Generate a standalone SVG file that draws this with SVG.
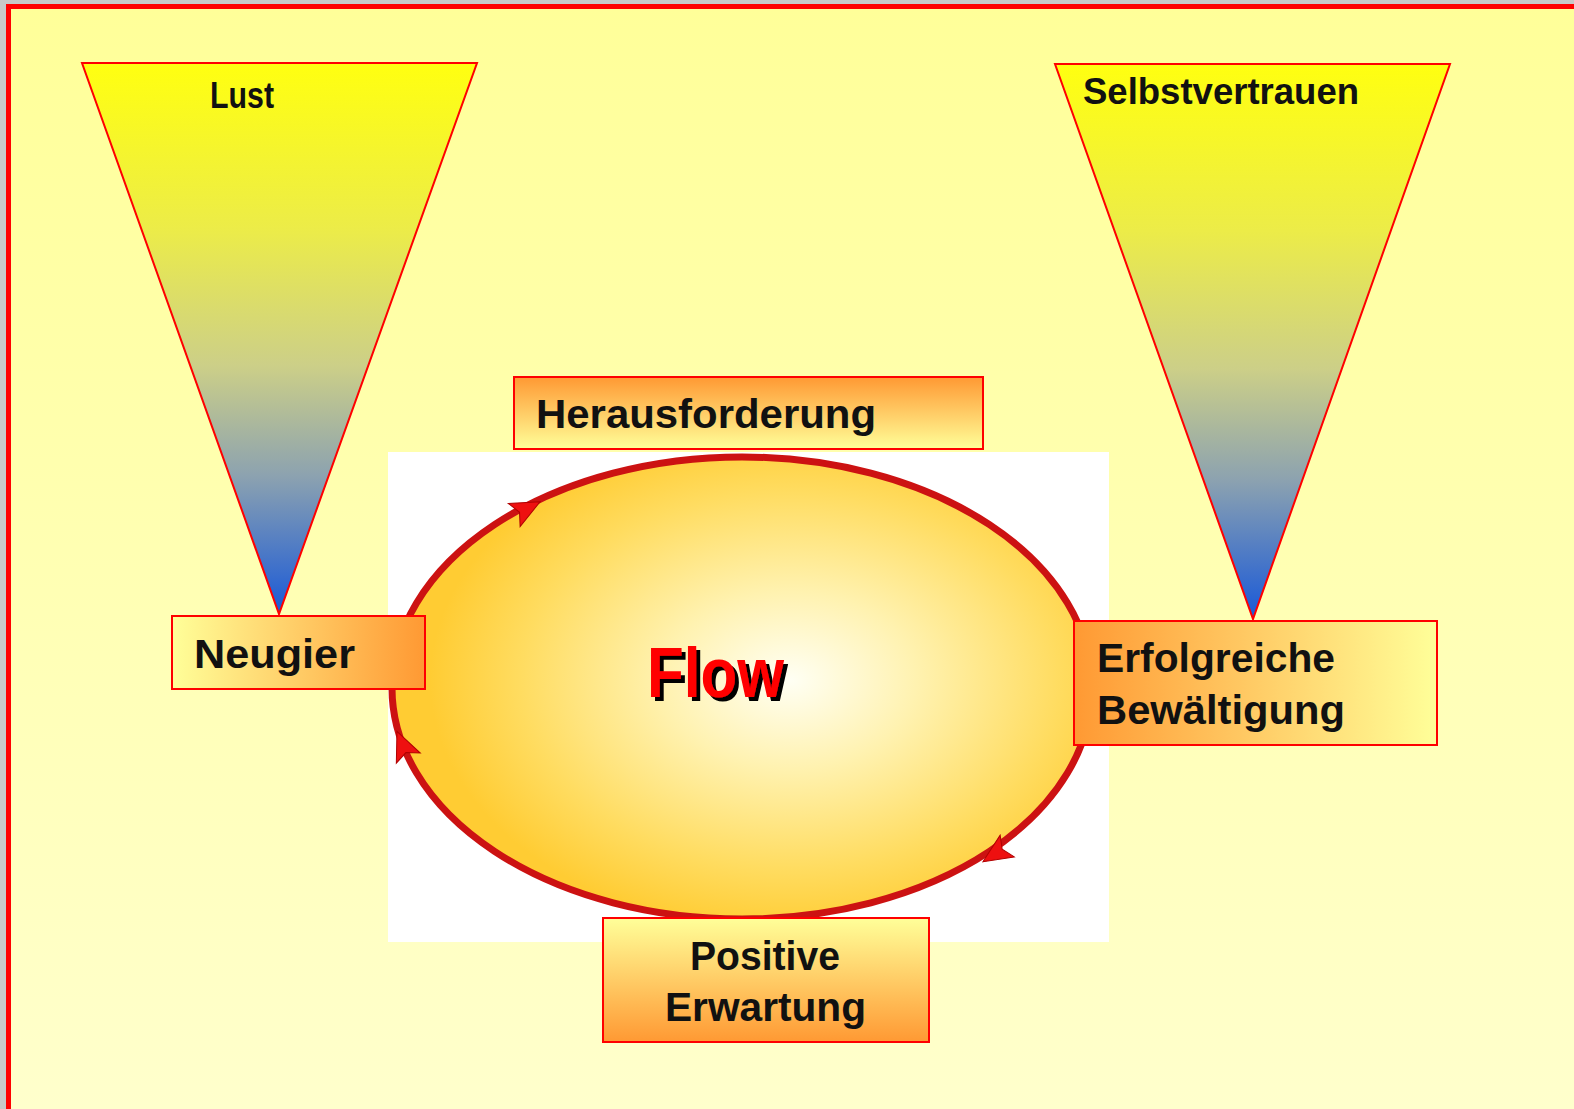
<svg xmlns="http://www.w3.org/2000/svg" width="1574" height="1109" viewBox="0 0 1574 1109">
<defs>
<style>
.lbl{font-family:"Liberation Sans",Arial,sans-serif;font-weight:bold;fill:#111;}
.box{stroke:#ff0000;stroke-width:2;}
.tri{stroke:#ff0000;stroke-width:2;fill:url(#triG);}
.ring{fill:none;stroke:#cc1212;stroke-width:7;}
.ah{fill:#ee1010;stroke:#b00000;stroke-width:1;}
</style>
<filter id="shadow" x="-10%" y="-10%" width="130%" height="130%">
<feDropShadow dx="4" dy="4" stdDeviation="0.4" flood-color="#000" flood-opacity="1"/>
</filter>
<linearGradient id="bgG" x1="0" y1="0" x2="0" y2="1">
<stop offset="0" stop-color="#ffff99"/>
<stop offset="1" stop-color="#ffffcc"/>
</linearGradient>
<linearGradient id="triG" x1="0" y1="0" x2="0" y2="1">
<stop offset="0" stop-color="#ffff10"/>
<stop offset="0.3" stop-color="#ecec48"/>
<stop offset="0.55" stop-color="#cccf88"/>
<stop offset="0.75" stop-color="#8ca2b0"/>
<stop offset="1" stop-color="#1858d8"/>
</linearGradient>
<linearGradient id="vOrangeTop" x1="0" y1="0" x2="0" y2="1">
<stop offset="0" stop-color="#ff9933"/>
<stop offset="1" stop-color="#ffff99"/>
</linearGradient>
<linearGradient id="vOrangeBottom" x1="0" y1="0" x2="0" y2="1">
<stop offset="0" stop-color="#ffff99"/>
<stop offset="1" stop-color="#ff9933"/>
</linearGradient>
<linearGradient id="hOrangeRight" x1="0" y1="0" x2="1" y2="0">
<stop offset="0" stop-color="#ffff99"/>
<stop offset="1" stop-color="#ff9933"/>
</linearGradient>
<linearGradient id="hOrangeLeft" x1="0" y1="0" x2="1" y2="0">
<stop offset="0" stop-color="#ff9933"/>
<stop offset="1" stop-color="#ffff99"/>
</linearGradient>
<radialGradient id="flowG" cx="790" cy="680" r="360" gradientUnits="userSpaceOnUse" gradientTransform="translate(790 680) scale(1 0.7) translate(-790 -680)">
<stop offset="0" stop-color="#fffff4"/>
<stop offset="0.35" stop-color="#fff2b0"/>
<stop offset="0.75" stop-color="#ffdc60"/>
<stop offset="1" stop-color="#ffcc33"/>
</radialGradient>
<polygon id="arrowHead" points="18,0 -11,-13 -5,0 -11,13"/>
</defs>

<rect x="0" y="0" width="1574" height="1109" fill="#c8c8c8"/>
<rect x="6" y="4" width="1568" height="1105" fill="#ff0000"/>
<rect x="11" y="9" width="1563" height="1100" fill="url(#bgG)"/>

<g id="lust">
<polygon class="tri" points="82,63 477,63 279,614"/>
<text class="lbl" x="210" y="108" font-size="36" textLength="64" lengthAdjust="spacingAndGlyphs">Lust</text>
</g>

<g id="selbstvertrauen">
<polygon class="tri" points="1055,64 1450,64 1253,619"/>
<text class="lbl" x="1083" y="104" font-size="36" textLength="276" lengthAdjust="spacingAndGlyphs">Selbstvertrauen</text>
</g>

<g id="flow">
<rect x="388" y="452" width="721" height="490" fill="#ffffff"/>
<ellipse cx="742" cy="688" rx="350" ry="231" fill="url(#flowG)"/>
<text x="647" y="697" font-family="Liberation Sans,Arial,sans-serif" font-weight="bold" font-size="70" fill="#ff0000" filter="url(#shadow)" textLength="137" lengthAdjust="spacingAndGlyphs">Flow</text>
</g>

<g id="connectors">
<ellipse class="ring" cx="742" cy="688" rx="350" ry="231"/>
<use href="#arrowHead" class="ah" transform="translate(524,510) rotate(-27)"/>
<use href="#arrowHead" class="ah" transform="translate(404,748) rotate(-113)"/>
<use href="#arrowHead" class="ah" transform="translate(998,852) rotate(147)"/>
</g>

<g id="herausforderung">
<rect class="box" x="514" y="377" width="469" height="72" fill="url(#vOrangeTop)"/>
<text class="lbl" x="536" y="428" font-size="41" textLength="340" lengthAdjust="spacingAndGlyphs">Herausforderung</text>
</g>

<g id="neugier">
<rect class="box" x="172" y="616" width="253" height="73" fill="url(#hOrangeRight)"/>
<text class="lbl" x="194" y="668" font-size="40" textLength="161" lengthAdjust="spacingAndGlyphs">Neugier</text>
</g>

<g id="erfolgreiche">
<rect class="box" x="1074" y="621" width="363" height="124" fill="url(#hOrangeLeft)"/>
<text class="lbl" x="1097" y="672" font-size="40" textLength="238" lengthAdjust="spacingAndGlyphs">Erfolgreiche</text>
<text class="lbl" x="1097" y="724" font-size="40" textLength="248" lengthAdjust="spacingAndGlyphs">Bewältigung</text>
</g>

<g id="positive">
<rect class="box" x="603" y="918" width="326" height="124" fill="url(#vOrangeBottom)"/>
<text class="lbl" x="690" y="970" font-size="40" textLength="150" lengthAdjust="spacingAndGlyphs">Positive</text>
<text class="lbl" x="665" y="1021" font-size="40" textLength="201" lengthAdjust="spacingAndGlyphs">Erwartung</text>
</g>
</svg>
